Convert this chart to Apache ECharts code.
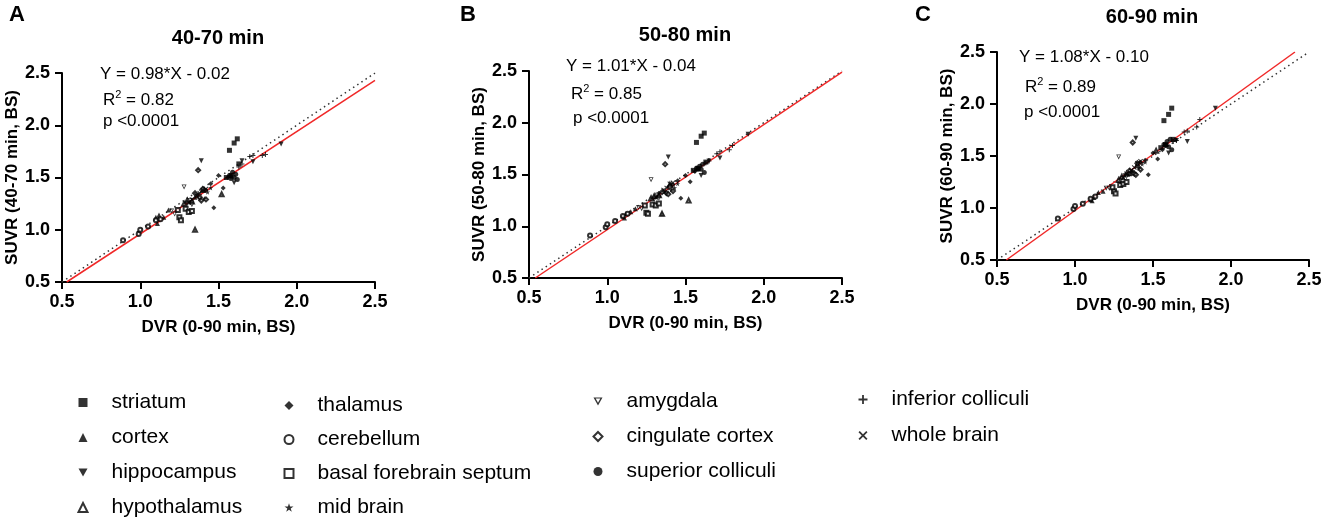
<!DOCTYPE html>
<html>
<head>
<meta charset="utf-8">
<script src="https://cdn.jsdelivr.net/npm/echarts@6/dist/echarts.min.js"></script>
<style>
  html, body { margin: 0; padding: 0; background: #fff; }
  #chart { width: 1325px; height: 526px; }
</style>
</head>
<body>
<div id="chart"></div>
<script>
// regions, in legend column order
var regions = ['striatum', 'cortex', 'hippocampus', 'hypothalamus',
  'thalamus', 'cerebellum', 'basal forebrain septum', 'mid brain',
  'amygdala', 'cingulate cortex', 'superior colliculi',
  'inferior colliculi', 'whole brain'];

var panelTitles = ['40-70 min', '50-80 min', '60-90 min'];
var panelLetters = ['A', 'B', 'C'];
var equations = ['Y = 0.98*X - 0.02', 'Y = 1.01*X - 0.04', 'Y = 1.08*X - 0.10'];
var rSquared = ['0.82', '0.85', '0.89'];
var pValues = ['p <0.0001', 'p <0.0001', 'p <0.0001'];
var xTicks = [0.5, 1.0, 1.5, 2.0, 2.5];

// DVR (0-90 min, BS), one row per region (same x in all three panels)
var dvr = [
  [1.57, 1.60, 1.62, 1.58, 1.63, 1.55],
  [1.10, 1.11, 1.12, 1.15, 1.18, 1.35],
  [1.39, 1.60, 1.72, 1.90, 1.58, 1.65],
  [1.35, 1.52, 1.28, 1.30, 1.40, 1.33],
  [1.47, 1.50, 1.53, 1.42, 1.56, 1.45],
  [0.89, 0.99, 1.00, 1.05, 1.10, 1.13],
  [1.25, 1.26, 1.29, 1.31, 1.33, 1.24],
  [1.36, 1.38, 1.41, 1.43, 1.45, 1.37],
  [1.28, 1.30, 1.32, 1.33, 1.20, 1.22],
  [1.37, 1.38, 1.40, 1.42, 1.35, 1.39],
  [1.57, 1.59, 1.60, 1.61, 1.58, 1.62],
  [1.65, 1.70, 1.72, 1.78, 1.80, 1.63],
  [1.33, 1.36, 1.38, 1.40, 1.42, 1.31]
];

// SUVR 40-70 min
var suvr4070 = [
  [1.76, 1.83, 1.87, 1.52, 1.63, 1.50],
  [1.12, 1.06, 1.14, 1.12, 1.19, 1.31],
  [1.66, 1.45, 1.65, 1.82, 1.50, 1.66],
  [1.00, 1.34, 1.25, 1.28, 1.38, 1.27],
  [1.21, 1.52, 1.40, 1.38, 1.50, 1.44],
  [0.90, 0.96, 1.00, 1.03, 1.09, 1.10],
  [1.12, 1.09, 1.20, 1.17, 1.18, 1.19],
  [1.32, 1.30, 1.30, 1.36, 1.40, 1.34],
  [1.41, 1.25, 1.28, 1.24, 1.18, 1.15],
  [1.57, 1.31, 1.39, 1.29, 1.35, 1.28],
  [1.52, 1.55, 1.50, 1.53, 1.49, 1.48],
  [1.63, 1.70, 1.71, 1.71, 1.72, 1.60],
  [1.29, 1.33, 1.35, 1.38, 1.39, 1.26]
];

// SUVR 50-80 min
var suvr5080 = [
  [1.81, 1.87, 1.90, 1.56, 1.62, 1.54],
  [1.10, 1.08, 1.12, 1.14, 1.17, 1.12],
  [1.67, 1.49, 1.66, 1.89, 1.55, 1.63],
  [1.12, 1.25, 1.27, 1.29, 1.40, 1.30],
  [1.27, 1.49, 1.43, 1.40, 1.53, 1.44],
  [0.91, 0.99, 1.02, 1.05, 1.10, 1.12],
  [1.13, 1.12, 1.21, 1.20, 1.22, 1.20],
  [1.33, 1.32, 1.35, 1.37, 1.41, 1.34],
  [1.45, 1.26, 1.30, 1.27, 1.18, 1.17],
  [1.60, 1.32, 1.38, 1.34, 1.33, 1.31],
  [1.56, 1.58, 1.55, 1.60, 1.55, 1.52],
  [1.63, 1.70, 1.72, 1.74, 1.78, 1.61],
  [1.31, 1.35, 1.37, 1.41, 1.42, 1.28]
];

// SUVR 60-90 min
var suvr6090 = [
  [1.84, 1.90, 1.96, 1.61, 1.66, 1.58],
  [1.08, 1.07, 1.10, 1.15, 1.16, 1.33],
  [1.67, 1.53, 1.64, 1.96, 1.60, 1.65],
  [1.34, 1.55, 1.27, 1.30, 1.41, 1.33],
  [1.32, 1.53, 1.47, 1.44, 1.56, 1.46],
  [0.90, 0.99, 1.02, 1.04, 1.09, 1.11],
  [1.16, 1.14, 1.22, 1.23, 1.25, 1.20],
  [1.35, 1.34, 1.38, 1.42, 1.44, 1.36],
  [1.49, 1.28, 1.31, 1.30, 1.19, 1.19],
  [1.63, 1.33, 1.43, 1.37, 1.36, 1.32],
  [1.61, 1.64, 1.59, 1.66, 1.60, 1.56],
  [1.65, 1.73, 1.74, 1.78, 1.85, 1.64],
  [1.33, 1.36, 1.39, 1.43, 1.45, 1.29]
];

// line end points
var identityLine = [[0.5, 0.5], [2.5, 2.5]];
var fit4070 = [[0.53, 0.50], [2.50, 2.43]];
var fit5080 = [[0.54, 0.50], [2.50, 2.49]];
var fit6090 = [[0.56, 0.50], [2.41, 2.50]];

var suvrPanels = [suvr4070, suvr5080, suvr6090];
var fitPanels = [fit4070, fit5080, fit6090];

var symbols = [
  'rect',
  'triangle',
  'path://M0,0L10,0L5,9Z',
  'emptyTriangle',
  'diamond',
  'emptyCircle',
  'emptyRect',
  'path://M5,0L6.2,3.6L10,3.6L6.9,5.8L8.1,9.5L5,7.2L1.9,9.5L3.1,5.8L0,3.6L3.8,3.6Z',
  'path://M0,0L10,0L5,9ZM2.4,1.3L5,6L7.6,1.3Z',
  'emptyDiamond',
  'circle',
  'path://M4,0H6V4H10V6H6V10H4V6H0V4H4Z',
  'path://M1.4,0L5,3.6L8.6,0L10,1.4L6.4,5L10,8.6L8.6,10L5,6.4L1.4,10L0,8.6L3.6,5L0,1.4Z'
];

var FONT = '"Liberation Sans", Arial, Helvetica, sans-serif';

var grids = [
  { left: 62, right: 950, top: 73, bottom: 244 },
  { left: 529, right: 483, top: 71, bottom: 248 },
  { left: 997, right: 16, top: 52, bottom: 266 }
];

var xAxes = [], yAxes = [], series = [];
grids.forEach(function (g, p) {
  var common = {
    type: 'value', gridIndex: p, min: xTicks[0], max: xTicks[xTicks.length - 1], interval: 0.5,
    splitLine: { show: false },
    axisLine: { lineStyle: { color: '#000', width: 2 } },
    axisTick: { length: 7, lineStyle: { color: '#000', width: 2 } },
    nameLocation: 'middle',
    nameTextStyle: { fontFamily: FONT, fontWeight: 'bold', fontSize: 17, color: '#000' }
  };
  xAxes.push(Object.assign({}, common, {
    name: 'DVR (0-90 min, BS)', nameGap: 37,
    axisLabel: { margin: 11, fontFamily: FONT, fontWeight: 'bold', fontSize: 18, color: '#000',
      formatter: function (v) { return v.toFixed(1); } }
  }));
  yAxes.push(Object.assign({}, common, {
    name: 'SUVR (' + panelTitles[p] + ', BS)', nameGap: 40,
    axisLabel: { margin: 12, fontFamily: FONT, fontWeight: 'bold', fontSize: 18, color: '#000',
      formatter: function (v) { return v.toFixed(1); } }
  }));

  series.push({
    type: 'line', xAxisIndex: p, yAxisIndex: p, data: identityLine, showSymbol: false, silent: true,
    lineStyle: { color: '#333', width: 1.5, type: [1.5, 3.5] }, z: 1
  });
  series.push({
    type: 'line', xAxisIndex: p, yAxisIndex: p, data: fitPanels[p], showSymbol: false, silent: true,
    lineStyle: { color: '#f02828', width: 1.5 }, z: 1
  });

  regions.forEach(function (name, r) {
    var empty = symbols[r].indexOf('empty') === 0;
    series.push({
      type: 'scatter', name: name, xAxisIndex: p, yAxisIndex: p,
      symbol: symbols[r], symbolSize: empty ? 4 : 5,
      itemStyle: empty ? { color: '#000', borderColor: '#000', borderWidth: 1.2 } : { color: '#000' },
      data: dvr[r].map(function (x, i) { return [x, suvrPanels[p][r][i]]; }),
      z: 3
    });
  });
});

var legendCols = [
  { names: regions.slice(0, 4), left: 77.5, top: 392, gap: 14 },
  { names: regions.slice(4, 8), left: 283.5, top: 395, gap: 13 },
  { names: regions.slice(8, 11), left: 592.5, top: 391, gap: 14 },
  { names: regions.slice(11, 13), left: 858.5, top: 389, gap: 15 }
];
var legends = legendCols.map(function (c) {
  return {
    data: c.names, orient: 'vertical', left: c.left, top: c.top, padding: 0,
    itemWidth: 9, itemHeight: 9, itemGap: c.gap, selectedMode: false,
    textStyle: { fontFamily: FONT, fontSize: 21, color: '#000', padding: [0, 0, 0, 19] }
  };
});

// panel texts
var letterPos = [[17, 15], [468, 15], [923, 15]];
var titlePos = [[218, 38], [685, 35], [1152, 17]];
var eqPos = [[100, 74], [566, 66], [1019, 57]];
var r2Pos = [[103, 99], [571, 93], [1025, 86]];
var pPos = [[103, 121], [573, 118], [1024, 112]];

var graphic = [];
for (var p = 0; p < 3; p++) {
  graphic.push({ type: 'text', x: letterPos[p][0], y: letterPos[p][1],
    style: { text: panelLetters[p], font: 'bold 22px ' + FONT, fill: '#000', align: 'center', verticalAlign: 'middle' } });
  graphic.push({ type: 'text', x: titlePos[p][0], y: titlePos[p][1],
    style: { text: panelTitles[p], font: 'bold 20px ' + FONT, fill: '#000', align: 'center', verticalAlign: 'middle' } });
  graphic.push({ type: 'text', x: eqPos[p][0], y: eqPos[p][1],
    style: { text: equations[p], font: '17px ' + FONT, fill: '#000', verticalAlign: 'middle' } });
  graphic.push({ type: 'text', x: r2Pos[p][0], y: r2Pos[p][1],
    style: { text: '{b|R}{s|2}{b| = ' + rSquared[p] + '}', fill: '#000', verticalAlign: 'middle',
      rich: { b: { fontFamily: FONT, fontSize: 17, lineHeight: 20, verticalAlign: 'bottom' },
              s: { fontFamily: FONT, fontSize: 11, lineHeight: 20, verticalAlign: 'top' } } } });
  graphic.push({ type: 'text', x: pPos[p][0], y: pPos[p][1],
    style: { text: pValues[p], font: '17px ' + FONT, fill: '#000', verticalAlign: 'middle' } });
}

var chart = echarts.init(document.getElementById('chart'));
chart.setOption({
  animation: false,
  backgroundColor: '#fff',
  grid: grids,
  xAxis: xAxes,
  yAxis: yAxes,
  legend: legends,
  graphic: graphic,
  series: series
});
</script>
</body>
</html>
